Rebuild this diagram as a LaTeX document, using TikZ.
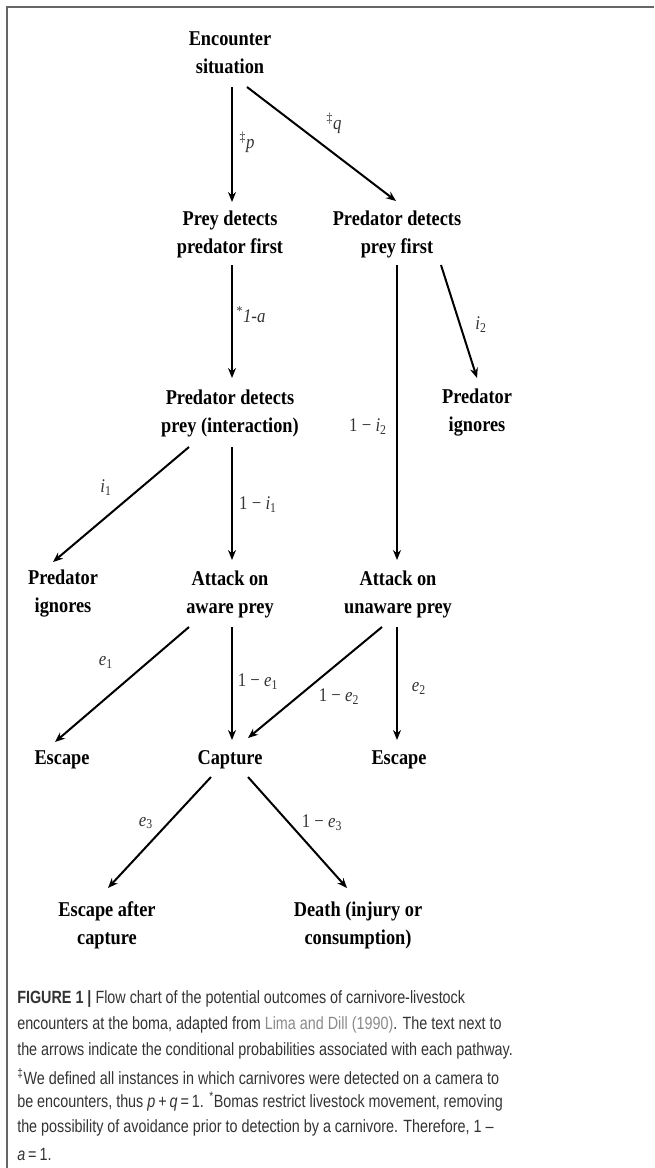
\documentclass[tikz,border=0pt]{standalone}
\usepackage{fontspec}
\setmainfont[FakeStretch=0.87]{Liberation Serif}
\newfontfamily\capfont[FakeStretch=0.81]{Liberation Sans}
\usetikzlibrary{arrows.meta,calc}
\definecolor{framegray}{HTML}{666666}
\definecolor{captext}{HTML}{333333}
\definecolor{linkgray}{HTML}{8A8A8A}
\begin{document}
\begin{tikzpicture}[x=0.75pt,y=-0.75pt,
  box/.style={font=\bfseries\fontsize{15.8}{21}\selectfont, align=center, inner sep=0pt, text=black},
  lab/.style={font=\fontsize{14.5}{16}\selectfont, text=black!80, inner sep=0pt},
  arr/.style={line width=1.5pt, -{Stealth[length=7.5pt,width=6pt]}},
  capline/.style={font=\capfont\fontsize{13.3}{15}\selectfont, text=captext, anchor=west, inner sep=0pt},
  framestyle/.style={draw=framegray, line width=1.5pt}]
\useasboundingbox (0,0) rectangle (654,1168);
% frame (top and left edges)
\coordinate (fTL) at (7,7);
\coordinate (fTR) at (654,7);
\coordinate (fBL) at (7,1168);
\draw[framestyle] (fBL) -- (fTL) -- (fTR);

% nodes
\node[box] (enc)  at (230,53)  {Encounter\\situation};
\node[box] (prey) at (230,234) {Prey detects\\predator first};
\node[box] (pdf)  at (397,234) {Predator detects\\prey first};
\node[box] (pdi)  at (230,413) {Predator detects\\prey (interaction)};
\node[box] (pig)  at (477,413) {Predator\\ignores};
\node[box] (lig)  at (63,594)  {Predator\\ignores};
\node[box] (aaw)  at (230,594) {Attack on\\aware prey};
\node[box] (aun)  at (398,594) {Attack on\\unaware prey};
\node[box] (esc1) at (62,760)  {Escape};
\node[box] (capt) at (230,760) {Capture};
\node[box] (esc2) at (399,760) {Escape};
\node[box] (eac)  at (107,925) {Escape after\\capture};
\node[box] (death) at (358,925) {Death (injury or\\consumption)};

% connectors
\draw[arr] ($(enc)+(2,34)$) -- ($(prey)+(2,-32)$);
\draw[arr] ($(enc)+(17,34)$) -- ($(pdf)+(-1,-33)$);
\draw[arr] ($(prey)+(2,31)$) -- ($(pdi)+(2,-35)$);
\draw[arr] ($(pdf)+(0,31)$) -- ($(aun)+(-1,-34)$);
\draw[arr] ($(pdf)+(44,31)$) -- ($(pig)+(0,-35)$);
\draw[arr] ($(pdi)+(-41,34)$) -- ($(lig)+(-10,-32)$);
\draw[arr] ($(pdi)+(2,34)$) -- ($(aaw)+(2,-34)$);
\draw[arr] ($(aaw)+(-41,33)$) -- ($(esc1)+(-7,-18)$);
\draw[arr] ($(aaw)+(2,33)$) -- ($(capt)+(2,-20)$);
\draw[arr] ($(aun)+(-16,33)$) -- ($(capt)+(18,-22)$);
\draw[arr] ($(aun)+(-1,33)$) -- ($(esc2)+(-2,-20)$);
\draw[arr] ($(capt)+(-19,17)$) -- ($(eac)+(1,-37)$);
\draw[arr] ($(capt)+(18,17)$) -- ($(death)+(-11,-37)$);

% labels
\node[lab] (lp)   at (247,142) {\textsuperscript{‡}\textit{p}};
\node[lab] (lq)   at (334,123) {\textsuperscript{‡}\textit{q}};
\node[lab] (la)   at (251,315) {\textsuperscript{*}\textit{1-a}};
\node[lab] (li2)  at (481,325) {\textit{i}\textsubscript{2}};
\node[lab] (l1i2) at (368,427) {1 − \textit{i}\textsubscript{2}};
\node[lab] (li1)  at (106,488) {\textit{i}\textsubscript{1}};
\node[lab] (l1i1) at (258,505) {1 − \textit{i}\textsubscript{1}};
\node[lab] (le1)  at (106,662) {\textit{e}\textsubscript{1}};
\node[lab] (l1e1) at (258,682) {1 − \textit{e}\textsubscript{1}};
\node[lab] (l1e2) at (339,697) {1 − \textit{e}\textsubscript{2}};
\node[lab] (le2)  at (419,688) {\textit{e}\textsubscript{2}};
\node[lab] (le3)  at (146,823) {\textit{e}\textsubscript{3}};
\node[lab] (l1e3) at (322,823) {1 − \textit{e}\textsubscript{3}};

% caption
\node[capline] (c1) at (17,999)  {\textbf{FIGURE 1 |} Flow chart of the potential outcomes of carnivore-livestock};
\node[capline] (c2) at (17,1025) {encounters at the boma, adapted from \textcolor{linkgray}{Lima and Dill (1990)}. The text next to};
\node[capline] (c3) at (17,1051) {the arrows indicate the conditional probabilities associated with each pathway.};
\node[capline] (c4) at (17,1077) {\textsuperscript{‡}We defined all instances in which carnivores were detected on a camera to};
\node[capline] (c5) at (17,1102) {be encounters, thus \textit{p}\,+\,\textit{q}\,=\,1. \textsuperscript{*}Bomas restrict livestock movement, removing};
\node[capline] (c6) at (17,1128) {the possibility of avoidance prior to detection by a carnivore. Therefore, 1 –};
\node[capline] (c7) at (17,1154) {\textit{a}\,=\,1.};
\end{tikzpicture}
\end{document}
